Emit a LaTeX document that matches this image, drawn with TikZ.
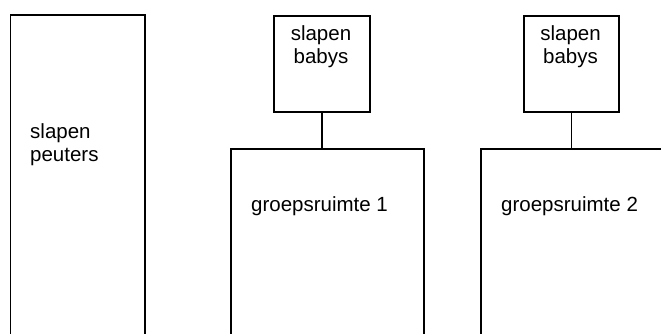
\documentclass[tikz,border=0pt]{standalone}
\usepackage{fontspec}
\setmainfont{Liberation Sans}
\begin{document}
\begin{tikzpicture}[x=1pt,y=-1pt,
  box/.style={draw=black, line width=1.8pt, inner sep=0pt, anchor=north west},
  lbl/.style={font=\fontsize{20.5}{23}\selectfont, inner sep=0pt},
  link/.style={draw=black, line width=1.8pt}]
\useasboundingbox (0,0) rectangle (661,334);
\clip (0,0) rectangle (661,334);
% boxes
\node[box, minimum width=134.5pt, minimum height=340pt] (peut) at (9.5,14) {};
\node[box, minimum width=96.6pt, minimum height=96pt] (bab1) at (272.7,15) {};
\node[box, minimum width=95.6pt, minimum height=96pt] (bab2) at (522.7,15) {};
\node[box, minimum width=193pt, minimum height=200pt] (grp1) at (230,148) {};
\node[box, minimum width=200pt, minimum height=200pt] (grp2) at (480,148) {};
% connectors
\draw[link] (bab1.south) -- (bab1.south |- grp1.north);
\draw[link] (bab2.south) -- (bab2.south |- grp2.north);
% labels (base anchor = baseline of the last line)
\node[lbl, anchor=base west, align=left] (tpeut) at (30,161) {slapen\\peuters};
\node[lbl, anchor=base, align=center] (tbab1) at (321,63.5) {slapen\\babys};
\node[lbl, anchor=base, align=center] (tbab2) at (570.5,63.5) {slapen\\babys};
\node[lbl, anchor=base west] (tgrp1) at (251,211) {groepsruimte 1};
\node[lbl, anchor=base west] (tgrp2) at (501,211) {groepsruimte 2};
\end{tikzpicture}
\end{document}
